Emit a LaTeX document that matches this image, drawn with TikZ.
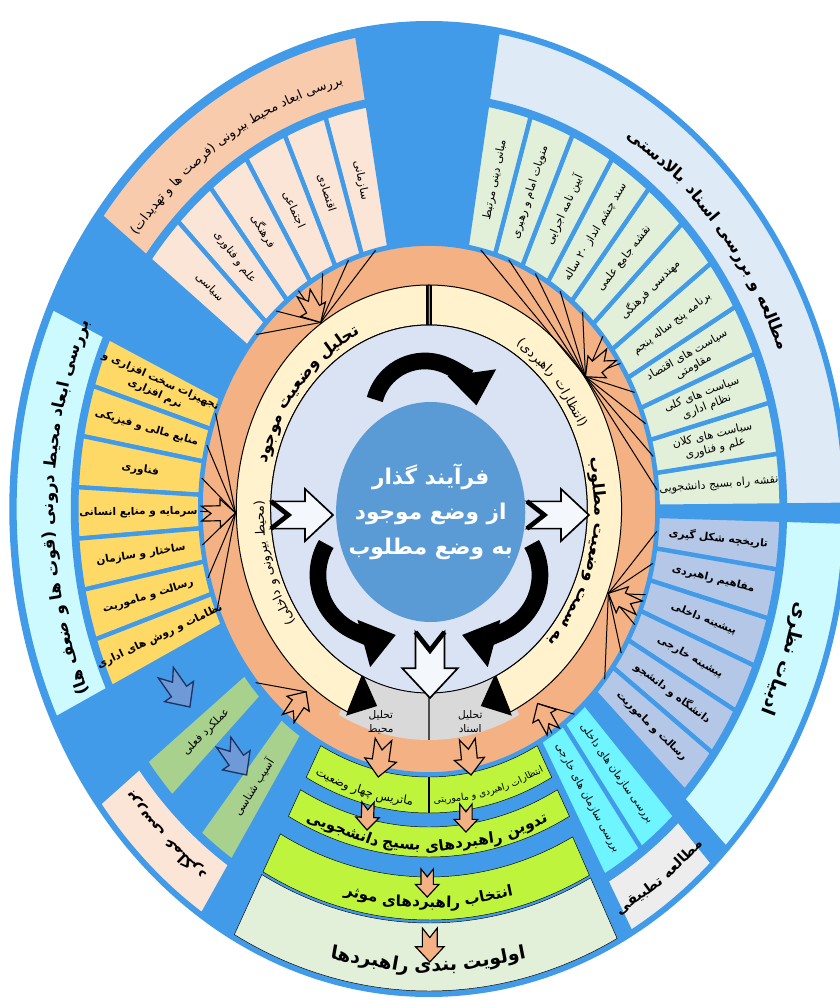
\documentclass[tikz,border=0pt]{standalone}
\usepackage{fontspec}
\usetikzlibrary{arrows.meta}
\newfontfamily\fafont[Script=Arabic]{DejaVu Sans}
\TeXXeTstate=1

\definecolor{ringblue}{RGB}{66,155,232}
\definecolor{peachhead}{RGB}{248,203,173}
\definecolor{peachbox}{RGB}{251,229,214}
\definecolor{docshead}{RGB}{222,235,247}
\definecolor{docsbox}{RGB}{226,240,217}
\definecolor{theohead}{RGB}{204,250,255}
\definecolor{theobox}{RGB}{180,199,231}
\definecolor{innerbox}{RGB}{255,217,102}
\definecolor{perfbox}{RGB}{169,209,142}
\definecolor{orgbox}{RGB}{110,245,255}
\definecolor{compbox}{RGB}{237,237,237}
\definecolor{limeband}{RGB}{190,245,60}
\definecolor{prioband}{RGB}{226,240,217}
\definecolor{orangering}{RGB}{244,177,131}
\definecolor{creamring}{RGB}{255,242,204}
\definecolor{paledisc}{RGB}{218,227,243}
\definecolor{coredisc}{RGB}{91,155,213}
\definecolor{graysector}{RGB}{217,217,217}
\definecolor{arrowblue}{RGB}{110,155,215}
\definecolor{navy}{RGB}{30,50,100}

\newcommand\fa[1]{\beginR#1\endR}
% the font mirrors brackets next to Persian words
\newcommand\lpar{)\kern0pt}
\newcommand\rpar{\kern0pt(}
\newcommand\boxfont{\fafont\fontsize{9.5}{11.5}\selectfont}
\newcommand\boldbox{\fafont\bfseries\fontsize{9}{11.5}\selectfont}
\newlength\wordwd
% width of a text inside the picture (fonts are switched off there)
\newcommand\measure[1]{\pgfinterruptpicture\settowidth\wordwd{#1}\global\wordwd=\wordwd\endpgfinterruptpicture}

% ring sector: [style]{from}{to}{inner r}{outer r}
\newcommand\sector[5][]{\filldraw[#1] (#2:#4) arc[start angle=#2,end angle=#3,radius=#4] -- (#3:#5) arc[start angle=#3,end angle=#2,radius=#5] -- cycle;}

% label along the radius: {angle}{radius}{0 or 180}{font}{text}
\newcommand\radlabel[5]{%
  \pgfmathsetmacro\lrot{atan2(sin(#1),0.86*cos(#1))+#3}%
  \node[rotate=\lrot,align=center,inner sep=0pt,font=#4] at (#1:#2) {#5};}

% words along an arc: {baseline r}{centre angle}{1 tops out / -1 tops in}{font}{words, visual order}
\newcommand\arcwords[5]{%
  \measure{#4\ }\pgfmathsetmacro\wgap{\wordwd}%
  \pgfmathsetmacro\dsd{#1*0.8536*sqrt((0.86*sin(#2))^2+(cos(#2))^2)*pi/180}%
  \gdef\totw{0}%
  \foreach \w in {#5}{%
    \measure{#4\w}\pgfmathsetmacro\wwid{\wordwd}%
    \pgfmathsetmacro\tmpw{\totw+\wwid+\wgap}%
    \global\let\totw\tmpw}%
  \pgfmathsetmacro\tmpa{#2+(#3)*(\totw-\wgap)/2/\dsd}%
  \global\let\curang\tmpa
  \foreach \w in {#5}{%
    \measure{#4\w}\pgfmathsetmacro\wwid{\wordwd}%
    \pgfmathsetmacro\dsd{#1*0.8536*sqrt((0.86*sin(\curang))^2+(cos(\curang))^2)*pi/180}%
    \pgfmathsetmacro\midang{\curang-(#3)*\wwid/2/\dsd}%
    \pgfmathsetmacro\wrot{atan2(-(#3)*cos(\midang),(#3)*0.86*sin(\midang))}%
    \node[rotate=\wrot,anchor=base,inner sep=0pt,font=#4] at (\midang:#1) {\w};
    \pgfmathsetmacro\tmpa{\curang-(#3)*(\wwid+\wgap)/\dsd}%
    \global\let\curang\tmpa}%
}

% notched arrow: [style]{tip}{direction}{length}
\newcommand\notcharrow[4][]{%
  \begin{scope}[shift={#2},x=0.3mm,y=0.3mm,rotate=#3]
    \filldraw[#1] (0,0) -- (-0.45*#4,0.42*#4) -- (-0.45*#4,0.22*#4) -- (-#4,0.22*#4) -- (-0.72*#4,0) -- (-#4,-0.22*#4) -- (-0.45*#4,-0.22*#4) -- (-0.45*#4,-0.42*#4) -- cycle;
  \end{scope}}
\newcommand\hollowarrow[3]{%
  \notcharrow[hollow]{#1}{#2}{#3}%
  \begin{scope}[shift={#1},x=0.3mm,y=0.3mm,rotate=#2]
    \draw[line width=1.4mm,line join=miter] (-#3,0.22*#3) -- (-0.72*#3,0) -- (-#3,-0.22*#3);
  \end{scope}}
% arrow pointing to the centre: [style]{angle}{tip r}{length}
\newcommand\inarrow[4][]{%
  \pgfmathsetmacro\arot{atan2(sin(#2),0.86*cos(#2))+180}%
  \notcharrow[#1]{(#2:#3)}{\arot}{#4}}
% bundle of lines from box ends to a tip
\newcommand\fan[3]{\foreach \s in {#3} \draw[fanline] (\s:266) -- (#1:#2);}

\tikzset{
  box/.style={draw=ringblue,line width=1.3mm},
  cream/.style={fill=creamring,draw=black,line width=0.3mm},
  fanline/.style={black,line width=0.3mm},
  fanhead/.style={fill=orangering,draw=black,line width=0.35mm},
  oarrow/.style={fill=orangering,draw=black,line width=0.35mm},
  barrow/.style={fill=arrowblue,draw=navy,line width=0.4mm},
  hollow/.style={fill=white!70!paledisc,draw=black,line width=0.5mm},
  bigcurve/.style={line width=5mm,-{Triangle[length=10mm,width=14mm]}},
}

\begin{document}
\begin{tikzpicture}[x=0.258mm,y=0.3mm]
\useasboundingbox (-498.8,-492) rectangle (477.9,509);
\fill[white] (-498.8,-492) rectangle (477.9,509);

% outer ring
\fill[ringblue] (0,0) circle[radius=488];

% top-left: external environment
\sector[box,fill=peachhead]{100}{142.5}{414}{481}
\foreach \i in {0,...,5}{
  \pgfmathsetmacro\angA{100+7.083*\i}\pgfmathsetmacro\angB{\angA+7.083}
  \sector[box,fill=peachbox]{\angA}{\angB}{266}{410}}

% top-right: upstream documents
\sector[box,fill=docshead]{0.5}{80.5}{414}{484}
\foreach \i in {0,...,10}{
  \pgfmathsetmacro\angA{0.5+7.273*\i}\pgfmathsetmacro\angB{\angA+7.273}
  \sector[box,fill=docsbox]{\angA}{\angB}{266}{410}}

% right: theory
\sector[box,fill=theohead]{-44.5}{-1.5}{414}{484}
\foreach \i in {0,...,5}{
  \pgfmathsetmacro\angA{-1.5-7*\i}\pgfmathsetmacro\angB{\angA-7}
  \sector[box,fill=theobox]{\angB}{\angA}{266}{410}}

% left: internal environment
\sector[box,fill=theohead]{155.3}{205.8}{414}{482}
\foreach \i in {0,...,6}{
  \pgfmathsetmacro\angA{155.3+7.214*\i}\pgfmathsetmacro\angB{\angA+7.214}
  \sector[box,fill=innerbox]{\angA}{\angB}{266}{410}}

% bottom-left
\sector[box,fill=perfbox]{217.5}{224}{270}{415}
\sector[box,fill=perfbox]{230.5}{237}{270}{420}
\sector[box,fill=peachbox]{217.5}{237}{424}{484}

% bottom-right
\sector[box,fill=orgbox]{-54}{-47}{266}{420}
\sector[box,fill=orgbox]{-61}{-54}{266}{420}
\sector[box,fill=compbox]{-61}{-47}{425}{484}

% bottom bands
\sector[fill=limeband]{-118}{-62}{268}{304}
\sector[fill=limeband]{-118}{-62}{318}{348}
\sector[fill=limeband]{-118}{-63}{368}{411}
\sector[fill=prioband]{-118}{-63}{414}{482}
\draw[line width=0.5mm] (-90:268) -- (-90:304);

% orange ring, cream ring, centre
\filldraw[fill=orangering,draw=ringblue,line width=0.5mm] (0,0) circle[radius=264];
\fill[graysector] (-63:184) arc[start angle=-63,end angle=-117,radius=184] -- (-117:231) arc[start angle=-117,end angle=-63,radius=231] -- cycle;
\draw[gray!60!black,line width=0.4mm] (-90:184) -- (-90:231);
\sector[cream]{90}{245}{184}{224}
\sector[cream]{-65}{90}{184}{224}
\fill (245:182) -- (245:228) -- (253:206) -- cycle;
\fill (-65:182) -- (-65:228) -- (-73:206) -- cycle;
\draw[line width=0.5mm] (-2.5,184) -- (-2.5,224) (2.5,184) -- (2.5,224);
\filldraw[fill=paledisc,draw=black,line width=0.3mm] (0,0) circle[radius=184];
\fill[paledisc] (-63:183) arc[start angle=-63,end angle=-117,radius=183] -- (0,0) -- cycle;
\fill[coredisc] (2,-3) circle[radius=110];

% bundles into the orange ring
\fan{124}{225}{103.5,110.6,117.7,124.8,131.9,139.0}
\inarrow[fanhead]{124}{225}{34}
\fan{36}{225}{76.9,69.6,62.3,55.0,47.8,40.5,33.2,26.0,18.7,11.4,4.1}
\inarrow[fanhead]{36}{225}{34}
\fan{181}{225}{158.9,166.1,173.3,180.5,187.8,195.0,202.2}
\inarrow[fanhead]{181}{225}{34}
\fan{-22}{225}{-4.8,-11.8,-18.8,-25.8,-32.8,-39.8}
\inarrow[fanhead]{-22}{225}{34}
\fan{232}{232}{220.75,233.75}
\inarrow[oarrow]{232}{232}{32}
\fan{-57}{232}{-50.5,-57.5}
\inarrow[oarrow]{-57}{232}{32}

% black turning arrows and hollow arrows
\begin{scope}[x=0.3mm,y=0.3mm]
  \draw[bigcurve] (-54.2,109.5) arc[start angle=165,end angle=8,radius=52];
  \draw[bigcurve] (-102.7,-35) arc[start angle=150,end angle=285,radius=62];
  \draw[bigcurve] (102.7,-35) arc[start angle=30,end angle=-105,radius=62];
\end{scope}
\hollowarrow{(-111.6,-6)}{0}{62}
\hollowarrow{(186,-6)}{0}{62}
\hollowarrow{(1.2,-189)}{-90}{66}

% arrows between the bands
\notcharrow[oarrow]{(-59,-268)}{-98}{38}
\notcharrow[oarrow]{(49,-266)}{-84}{36}
\notcharrow[oarrow]{(-72,-321)}{-92}{28}
\notcharrow[oarrow]{(43,-323)}{-90}{28}
\notcharrow[oarrow]{(-2,-388)}{-90}{28}
\notcharrow[oarrow]{(1,-453)}{-90}{34}
\notcharrow[barrow]{(-278,-198)}{-55}{42}
\notcharrow[barrow]{(-212,-266)}{-55}{40}

% centre text
\node[font=\fafont\bfseries\fontsize{18.5}{30}\selectfont,text=white,align=center] at (2,-3)
  {\fa{فرآیند گذار}\\\fa{از وضع موجود}\\\fa{به وضع مطلوب}};

% cream ring text
\arcwords{192}{140}{1}{\fafont\bfseries\fontsize{14}{16}\selectfont}{موجود,وضعیت,تحلیل}
\arcwords{192}{197}{1}{\fafont\fontsize{11}{13}\selectfont}{\lpar داخلی,و,بیرونی,محیط\rpar}
\arcwords{192}{-14}{1}{\fafont\bfseries\fontsize{14}{16}\selectfont}{مطلوب,وضعیت,سمت,به}
\arcwords{192}{42}{1}{\fafont\fontsize{11}{13}\selectfont}{\lpar راهبردی,انتظارات\rpar}

% gray analysis labels
\node[font=\fafont\fontsize{9}{12}\selectfont,align=center] at (-56,-213) {\fa{تحلیل}\\\fa{محیط}};
\node[font=\fafont\fontsize{9}{12}\selectfont,align=center] at (48,-213) {\fa{تحلیل}\\\fa{اسناد}};

% headers
\arcwords{436}{122}{1}{\fafont\fontsize{11}{13}\selectfont}{\lpar تهدیدات,و,ها,فرصت\rpar,بیرونی,محیط,ابعاد,بررسی}
\arcwords{436}{40}{1}{\fafont\bfseries\fontsize{14}{16}\selectfont}{بالادستی,اسناد,بررسی,و,مطالعه}
\arcwords{436}{180}{1}{\fafont\bfseries\fontsize{14}{16}\selectfont}{\lpar ها,ضعف,و,ها,قوت\rpar,درونی,محیط,ابعاد,بررسی}
\arcwords{436}{-20}{1}{\fafont\bfseries\fontsize{16}{18}\selectfont}{نظری,ادبیات}
\arcwords{446}{227}{1}{\fafont\bfseries\fontsize{13}{15}\selectfont}{عملکرد,بررسی}
\arcwords{462}{-54}{-1}{\fafont\bfseries\fontsize{12}{14}\selectfont}{تطبیقی,مطالعه}

% bottom bands
\arcwords{296}{-105}{-1}{\fafont\fontsize{10}{12}\selectfont}{وضعیت,چهار,ماتریس}
\arcwords{294}{-76}{-1}{\fafont\fontsize{8}{10}\selectfont}{ماموریتی,و,راهبردی,انتظارات}
\arcwords{341}{-90}{-1}{\fafont\bfseries\fontsize{13}{15}\selectfont}{دانشجویی,بسیج,راهبردهای,تدوین}
\arcwords{398}{-90}{-1}{\fafont\bfseries\fontsize{13}{15}\selectfont}{موثر,راهبردهای,انتخاب}
\arcwords{462}{-90}{-1}{\fafont\bfseries\fontsize{16}{18}\selectfont}{راهبردها,بندی,اولویت}

% box labels
\foreach \t [count=\i from 0] in {{\fa{سازمانی}},{\fa{اقتصادی}},{\fa{اجتماعی}},{\fa{فرهنگی}},{\fa{علم و فناوری}},{\fa{سیاسی}}}{
  \pgfmathsetmacro\angA{100+7.083*(\i+0.5)}
  \radlabel{\angA}{338}{180}{\boxfont}{\t}}
\foreach \t [count=\i from 0] in {{\fa{مبانی دینی مرتبط}},{\fa{منویات امام و رهبری}},{\fa{آیین نامه اجرایی}},{\fa{سند چشم انداز ۲۰ ساله}},{\fa{نقشه جامع علمی}},{\fa{مهندسی فرهنگی}},{\fa{برنامه پنج ساله پنجم}},{\fa{سیاست های اقتصاد}\\\fa{مقاومتی}},{\fa{سیاست های کلی}\\\fa{نظام اداری}},{\fa{سیاست های کلان}\\\fa{علم و فناوری}},{\fa{نقشه راه بسیج دانشجویی}}}{
  \pgfmathsetmacro\angA{80.5-7.273*(\i+0.5)}
  \radlabel{\angA}{338}{0}{\boxfont}{\t}}
\foreach \t [count=\i from 0] in {{\fa{تاریخچه شکل گیری}},{\fa{مفاهیم راهبردی}},{\fa{پیشینه داخلی}},{\fa{پیشینه خارجی}},{\fa{دانشگاه و دانشجو}},{\fa{رسالت و ماموریت}}}{
  \pgfmathsetmacro\angA{-1.5-7*(\i+0.5)}
  \radlabel{\angA}{338}{0}{\boldbox}{\t}}
\foreach \t [count=\i from 0] in {{\fa{تجهیزات سخت افزاری و}\\\fa{نرم افزاری}},{\fa{منابع مالی و فیزیکی}},{\fa{فناوری}},{\fa{سرمایه و منابع انسانی}},{\fa{ساختار و سازمان}},{\fa{رسالت و ماموریت}},{\fa{نظامات و روش های اداری}}}{
  \pgfmathsetmacro\angA{155.3+7.214*(\i+0.5)}
  \radlabel{\angA}{338}{180}{\boldbox}{\t}}
\radlabel{-50.5}{343}{0}{\fafont\fontsize{9}{11}\selectfont}{\fa{بررسی سازمان های داخلی}}
\radlabel{-57.5}{343}{0}{\fafont\fontsize{9}{11}\selectfont}{\fa{بررسی سازمان های خارجی}}
\radlabel{220.75}{342}{180}{\boxfont}{\fa{عملکرد فعلی}}
\radlabel{233.75}{345}{180}{\boxfont}{\fa{آسیب شناسی}}
\end{tikzpicture}
\end{document}
